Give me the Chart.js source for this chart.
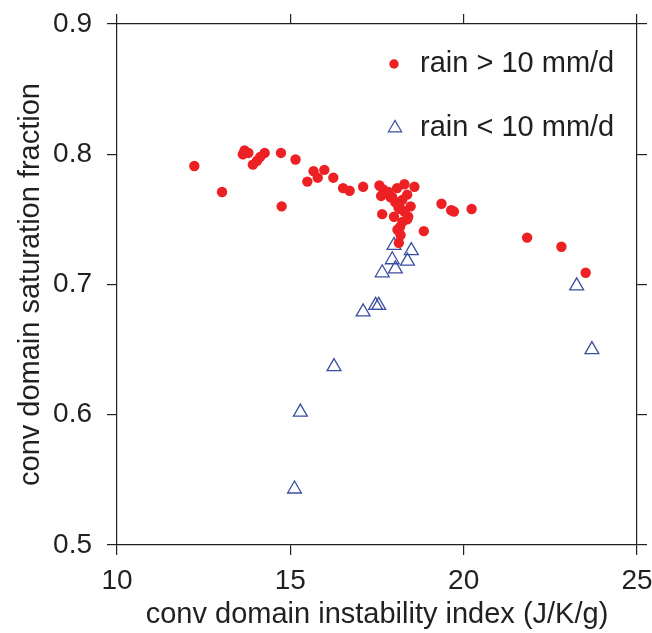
<!DOCTYPE html>
<html lang="en">
<head>
  <meta charset="UTF-8">
  <title>conv domain saturation fraction</title>
  <script src="https://cdn.jsdelivr.net/npm/chart.js@4.4.0/dist/chart.umd.min.js"></script>
  <style>
    html, body { margin: 0; padding: 0; background: #fff; }
    #scatter-chart { display: block; }
  </style>
</head>
<body>

<canvas id="scatter-chart" width="652" height="633"></canvas>

<script>
  // rain > 10 mm/d (red dots)
  var rainHighX = [12.23, 13.03, 13.68, 13.63, 13.79, 13.92, 14.04, 14.13, 14.26, 14.73,
                   15.15, 14.75, 15.67, 15.98, 15.49, 15.79, 16.24, 16.52, 16.71, 17.10,
                   17.57, 17.68, 17.62, 18.08, 18.29, 18.58, 18.37, 17.94, 18.23, 18.03,
                   18.47, 18.18, 17.65, 17.99, 18.37, 18.23, 18.16, 18.85, 18.18, 18.13,
                   19.36, 19.64, 19.72, 20.23, 21.83, 22.82, 23.52, 17.83, 18.29, 18.09,
                   18.40, 18.12, 17.89];
  var rainHighY = [0.791, 0.771, 0.803, 0.800, 0.801, 0.792, 0.795, 0.798, 0.801, 0.801,
                   0.796, 0.760, 0.787, 0.788, 0.779, 0.782, 0.782, 0.774, 0.772, 0.775,
                   0.776, 0.773, 0.768, 0.774, 0.777, 0.775, 0.769, 0.767, 0.765, 0.763,
                   0.760, 0.758, 0.754, 0.752, 0.750, 0.748, 0.744, 0.741, 0.738, 0.732,
                   0.762, 0.757, 0.756, 0.758, 0.736, 0.729, 0.709, 0.771, 0.756, 0.742,
                   0.752, 0.759, 0.767];

  // rain < 10 mm/d (open triangles)
  var rainLowX = [17.99, 18.49, 17.94, 18.38, 18.03, 17.65, 17.46, 17.55, 17.10, 16.26,
                  15.29, 15.12, 23.26, 23.70];
  var rainLowY = [0.730, 0.726, 0.719, 0.718, 0.712, 0.709, 0.684, 0.684, 0.679, 0.637,
                  0.602, 0.543, 0.699, 0.650];

  var seriesLabels = ['rain > 10 mm/d', 'rain < 10 mm/d'];
  var xTitle = 'conv domain instability index (J/K/g)';
  var yTitle = 'conv domain saturation fraction';

  var ink = '#231f20';
  var red = '#ed2024';
  var blue = '#3a4ea0';
  var fontFamily = "'Liberation Sans', Arial, Helvetica, sans-serif";

  function toPoints(xs, ys) {
    return xs.map(function (x, i) { return { x: x, y: ys[i] }; });
  }

  function frameGrid() {
    return { drawOnChartArea: false, drawTicks: true, tickLength: 10, color: ink, lineWidth: 1.2 };
  }
  var frameBorder = { display: true, color: ink, width: 1.2 };

  // fixed box sizes so the plot frame lands where the original one is
  function fixSize(prop, size) {
    return function (s) {
      s[prop] = size;
      s.paddingLeft = 0; s.paddingRight = 0;
      s.paddingTop = 0; s.paddingBottom = 0;
    };
  }

  // legend drawn inside the plot, upper right
  var insideLegend = {
    id: 'insideLegend',
    afterDatasetsDraw: function (chart) {
      var ctx = chart.ctx;
      var area = chart.chartArea;
      var markX = area.right - 243;
      var textX = area.right - 217;
      var rows = [area.top + 40, area.top + 104];

      ctx.save();
      // red dot
      ctx.fillStyle = red;
      ctx.beginPath();
      ctx.arc(markX, rows[0], 4.7, 0, Math.PI * 2);
      ctx.fill();
      // open triangle
      var r = 7.6;
      ctx.strokeStyle = blue;
      ctx.lineWidth = 1.2;
      ctx.beginPath();
      ctx.moveTo(markX + 1, rows[1] - r);
      ctx.lineTo(markX + 1 + r * 0.866, rows[1] + r * 0.5);
      ctx.lineTo(markX + 1 - r * 0.866, rows[1] + r * 0.5);
      ctx.closePath();
      ctx.stroke();

      ctx.fillStyle = ink;
      ctx.font = '29px ' + fontFamily;
      ctx.textAlign = 'left';
      ctx.textBaseline = 'middle';
      ctx.fillText(seriesLabels[0], textX, rows[0]);
      ctx.fillText(seriesLabels[1], textX, rows[1]);
      ctx.restore();
    }
  };

  var ctx = document.getElementById('scatter-chart').getContext('2d');
  var myChart = new Chart(ctx, {
    type: 'scatter',
    data: {
      datasets: [{
        label: seriesLabels[0],
        data: toPoints(rainHighX, rainHighY),
        pointStyle: 'circle',
        pointRadius: 5.2,
        backgroundColor: red,
        borderWidth: 0
      }, {
        label: seriesLabels[1],
        data: toPoints(rainLowX, rainLowY),
        pointStyle: 'triangle',
        pointRadius: 8,
        backgroundColor: 'rgba(0,0,0,0)',
        borderColor: blue,
        borderWidth: 1.3
      }]
    },
    options: {
      responsive: false,
      animation: false,
      events: [],
      layout: { padding: 0 },
      plugins: {
        legend: { display: false },
        tooltip: { enabled: false }
      },
      scales: {
        x: {
          type: 'linear',
          position: 'bottom',
          min: 10,
          max: 25,
          grid: frameGrid(),
          border: frameBorder,
          ticks: { stepSize: 5, color: ink, padding: 9, font: { family: fontFamily, size: 28 } },
          title: {
            display: true,
            text: xTitle,
            color: ink,
            font: { family: fontFamily, size: 29 },
            padding: { top: 0, bottom: 1 }
          },
          afterFit: fixSize('height', 88)
        },
        x2: {
          type: 'linear',
          position: 'top',
          min: 10,
          max: 25,
          grid: frameGrid(),
          border: frameBorder,
          ticks: { stepSize: 5, display: false },
          afterFit: fixSize('height', 24)
        },
        y: {
          type: 'linear',
          position: 'left',
          min: 0.5,
          max: 0.9,
          grid: frameGrid(),
          border: frameBorder,
          ticks: {
            stepSize: 0.1,
            color: ink,
            padding: 15,
            font: { family: fontFamily, size: 28 },
            callback: function (v) { return v.toFixed(1); }
          },
          title: {
            display: true,
            text: yTitle,
            color: ink,
            font: { family: fontFamily, size: 29 },
            padding: { top: 14, bottom: 0 }
          },
          afterFit: fixSize('width', 117)
        },
        y2: {
          type: 'linear',
          position: 'right',
          min: 0.5,
          max: 0.9,
          grid: frameGrid(),
          border: frameBorder,
          ticks: { stepSize: 0.1, display: false },
          afterFit: fixSize('width', 15)
        }
      }
    },
    plugins: [insideLegend]
  });
</script>

</body>
</html>
